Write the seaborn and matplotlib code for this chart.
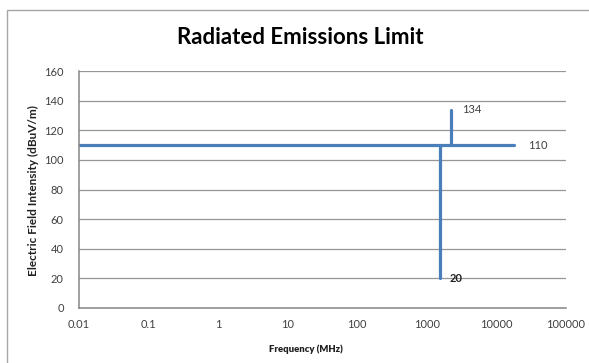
import matplotlib
matplotlib.use("Agg")
import matplotlib.pyplot as plt
import seaborn as sns
import pandas as pd
from matplotlib.patches import Rectangle

# Data
h_freq = [0.01, 18000]
h_level = [110, 110]
v1_freq = [1550, 1550]
v1_level = [110, 20]
v2_freq = [2200, 2200]
v2_level = [110, 134]
x_ticks = [0.01, 0.1, 1, 10, 100, 1000, 10000, 100000]
x_tick_labels = ["0.01", "0.1", "1", "10", "100", "1000", "10000", "100000"]
y_ticks = [0, 20, 40, 60, 80, 100, 120, 140, 160]

sns.set_style("white")
plt.rcParams['font.family'] = ['Lato', 'DejaVu Sans']

fig = plt.figure(figsize=(5.89, 3.63), dpi=100)
ax = fig.add_axes([79/589, 1-308/363, (566-79)/589, (308-71)/363])

line_color = "#4A7EBB"
segs = [
    pd.DataFrame({"freq": h_freq, "level": h_level}),
    pd.DataFrame({"freq": v1_freq, "level": v1_level}),
    pd.DataFrame({"freq": v2_freq, "level": v2_level}),
]
for df in segs:
    sns.lineplot(data=df, x="freq", y="level", ax=ax, sort=False,
                 color=line_color, linewidth=2.3, estimator=None)

ax.set_xscale("log")
ax.set_xlim(0.01, 100000)
ax.set_ylim(0, 160)
ax.set_xticks(x_ticks)
ax.set_xticklabels(x_tick_labels)
ax.minorticks_off()
ax.set_yticks(y_ticks)
ax.tick_params(axis="both", length=0, labelsize=8, colors="#404040")
ax.tick_params(axis="x", pad=8)
ax.tick_params(axis="y", pad=11)
ax.yaxis.grid(True, color="#969696", linewidth=0.9)
ax.xaxis.grid(False)
ax.set_axisbelow(True)
for s in ["top", "right"]:
    ax.spines[s].set_visible(False)
for s in ["left", "bottom"]:
    ax.spines[s].set_color("#868686")
    ax.spines[s].set_linewidth(1.1)

ax.set_xlabel("Frequency (MHz)", fontsize=6.8, fontweight="heavy", color="#202020")
ax.xaxis.set_label_coords((306-79)/487, (308-349)/237)
ax.xaxis.label.set_va("center")
ax.set_ylabel("Electric Field Intensity (dBuV/m)", fontsize=8.5, fontweight="bold", color="#202020")
ax.yaxis.set_label_coords((33-79)/487, (308-191)/237)
ax.yaxis.label.set_va("center")

# Data labels
ax.annotate(str(h_level[-1]), (h_freq[-1], h_level[-1]), xytext=(10, 0), textcoords="offset points",
            fontsize=8, color="#404040", va="center", ha="left")
ax.annotate(str(v2_level[-1]), (v2_freq[-1], v2_level[-1]), xytext=(8, 0), textcoords="offset points",
            fontsize=8, color="#404040", va="center", ha="left")
ax.annotate(str(v1_level[-1]), (v1_freq[-1], v1_level[-1]), xytext=(7, 0), textcoords="offset points",
            fontsize=8, color="#202020", va="center", ha="left", fontweight="bold")

fig.text(300/589, 1-38/363, "Radiated Emissions Limit", fontsize=16, fontweight="bold",
         ha="center", va="center", color="#000000")

# Chart border (clipped on right/bottom)
fig.patches.append(Rectangle((7/589, -0.1), 1.2, 1.1 - 10/363, transform=fig.transFigure,
                             fill=False, edgecolor="#A6A6A6", linewidth=1.0))

fig.savefig("out.png", dpi=100, facecolor="white")
